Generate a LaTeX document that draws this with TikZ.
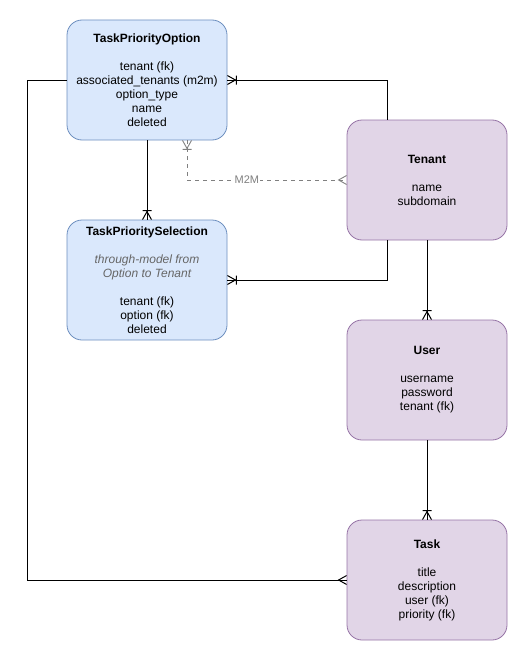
\documentclass[tikz,border=0pt]{standalone}
\usepackage{fontspec}
\setmainfont{Liberation Sans}
\usetikzlibrary{arrows.meta}
\definecolor{bluefill}{HTML}{DAE8FC}
\definecolor{bluestroke}{HTML}{6C8EBF}
\definecolor{purplefill}{HTML}{E1D5E7}
\definecolor{purplestroke}{HTML}{9673A6}
\definecolor{m2mgrey}{HTML}{808080}
\definecolor{italgrey}{HTML}{666666}
\pgfdeclarearrow{
  name = crow,
  setup code = {
    \pgfarrowssettipend{0pt}
    \pgfarrowssetlineend{0pt}
    \pgfarrowssetbackend{-9pt}
    \pgfarrowssetvisualbackend{-9pt}
  },
  drawing code = {
    \pgfsetdash{}{0pt}
    \pgfpathmoveto{\pgfqpoint{0pt}{4.5pt}}
    \pgfpathlineto{\pgfqpoint{-8pt}{0pt}}
    \pgfpathlineto{\pgfqpoint{0pt}{-4.5pt}}
    \pgfusepathqstroke
  }
}
\pgfdeclarearrow{
  name = crowbar,
  setup code = {
    \pgfarrowssettipend{0pt}
    \pgfarrowssetlineend{0pt}
    \pgfarrowssetbackend{-11pt}
    \pgfarrowssetvisualbackend{-11pt}
  },
  drawing code = {
    \pgfsetdash{}{0pt}
    \pgfpathmoveto{\pgfqpoint{0pt}{4.5pt}}
    \pgfpathlineto{\pgfqpoint{-8pt}{0pt}}
    \pgfpathlineto{\pgfqpoint{0pt}{-4.5pt}}
    \pgfpathmoveto{\pgfqpoint{-9pt}{4.5pt}}
    \pgfpathlineto{\pgfqpoint{-9pt}{-4.5pt}}
    \pgfusepathqstroke
  }
}
\tikzset{
  entity/.style={rectangle, rounded corners=15pt, minimum width=160pt, minimum height=120pt,
    line width=0.8pt, align=center, inner sep=0pt,
    font=\fontsize{12}{14}\selectfont, text=black},
  blueent/.style={entity, fill=bluefill, draw=bluestroke},
  purpent/.style={entity, fill=purplefill, draw=purplestroke},
  rel/.style={line width=1pt, draw=black, -{crowbar}},
  relmany/.style={line width=1pt, draw=black, -{crow}},
  m2m/.style={line width=0.9pt, draw=m2mgrey, dash pattern=on 4pt off 4pt, {crowbar}-{crow}},
}
\begin{document}
\begin{tikzpicture}[x=1pt, y=-1pt]
\useasboundingbox (0,0) rectangle (529,661);
\node[blueent] (tpo) at (147,80) {\textbf{TaskPriorityOption}\\[14pt]tenant (fk)\\associated\_tenants (m2m)\\option\_type\\name\\deleted};
\node[blueent] (tps) at (147,280) {\textbf{TaskPrioritySelection}\\[14pt]{\color{italgrey}\itshape through-model from}\\{\color{italgrey}\itshape Option to Tenant}\\[14pt]tenant (fk)\\option (fk)\\deleted};
\node[purpent] (tenant) at (427,180) {\textbf{Tenant}\\[14pt]name\\subdomain};
\node[purpent] (user) at (427,380) {\textbf{User}\\[14pt]username\\password\\tenant (fk)};
\node[purpent] (task) at (427,580) {\textbf{Task}\\[14pt]title\\description\\user (fk)\\priority (fk)};
\coordinate (c1) at (387,80);
\coordinate (c3) at (387,280);
\coordinate (c6a) at (27,80);
\coordinate (c6b) at (27,580);
\coordinate (c7) at (187,180);
% connectors
\draw[rel] (tenant.north -| c1) -- (c1) -- (tpo.east |- c1);
\draw[rel] (tpo.south) -- (tps.north);
\draw[rel] (tenant.south -| c3) -- (c3) -- (tps.east |- c3);
\draw[rel] (tenant.south) -- (user.north);
\draw[rel] (user.south) -- (task.north);
\draw[relmany] (tpo.west) -- (c6a) -- (c6b) -- (task.west);
\draw[m2m] (tpo.south -| c7) -- (c7) -- node[pos=0.375, fill=white, inner sep=1pt, text=m2mgrey, font=\fontsize{11}{13}\selectfont]{M2M} (tenant.west |- c7);
\end{tikzpicture}
\end{document}
